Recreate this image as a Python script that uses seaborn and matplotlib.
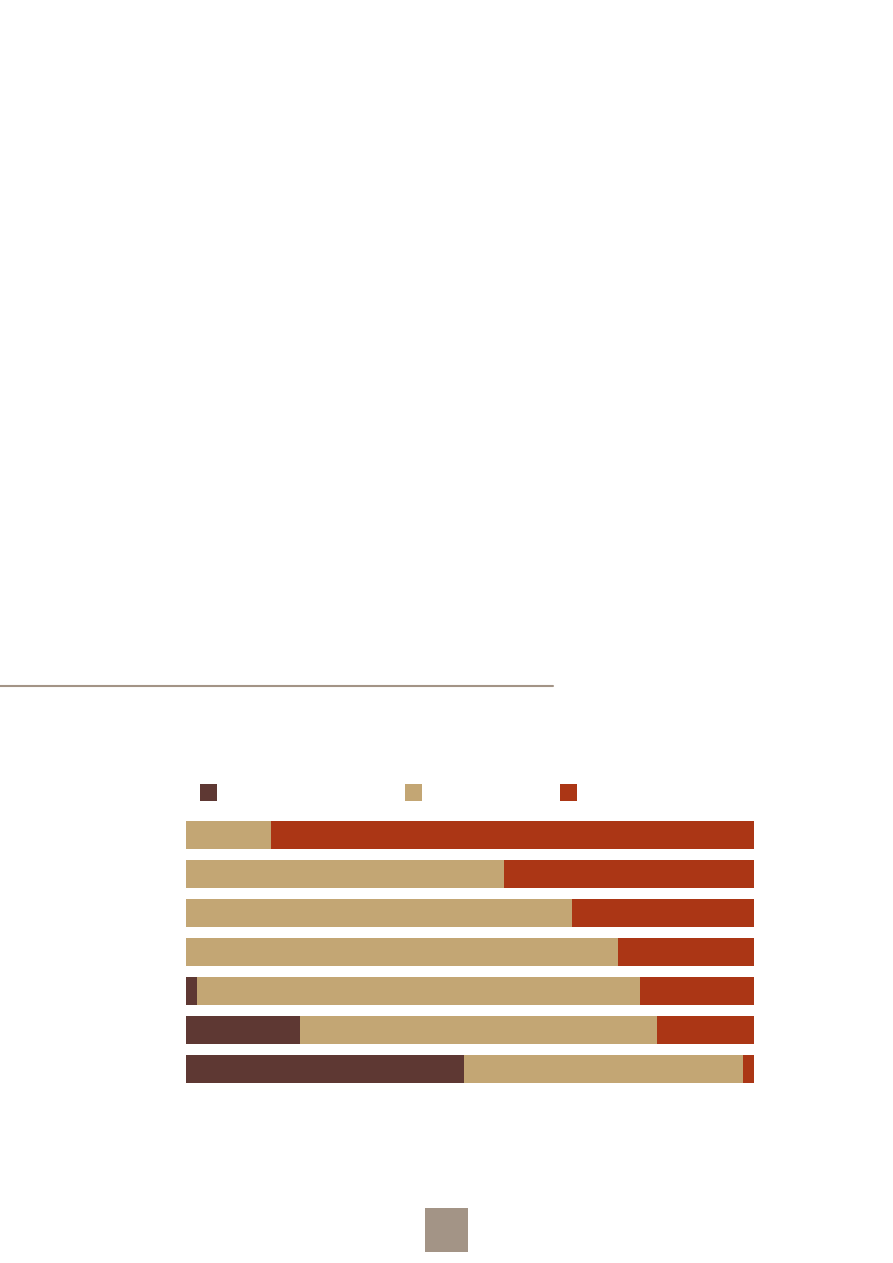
import numpy as np
import matplotlib
matplotlib.use("Agg")
import matplotlib.pyplot as plt
import matplotlib.patches as mpatches
import matplotlib.lines as mlines
import pandas as pd
import seaborn as sns

# seven rows, shares in percent (text of the source was blank)
rows = ["r1", "r2", "r3", "r4", "r5", "r6", "r7"]
dark = [0, 0, 0, 0, 2, 20, 49]
tan = [15, 56, 68, 76, 78, 63, 49]
red = [85, 44, 32, 24, 20, 17, 2]

c_dark = "#5e3833"
c_tan = "#c3a674"
c_red = "#ab3615"
c_grey = "#a39486"

sns.set_theme(style="white")

df = pd.DataFrame({"row": rows, "dark": dark, "tan": tan, "red": red})
df["cum_tan"] = df["dark"] + df["tan"]
df["cum_red"] = df["cum_tan"] + df["red"]

fig = plt.figure(figsize=(8.93, 12.63), dpi=100)
ax = fig.add_axes([186 / 893, 1 - 1088.5 / 1263, 568 / 893, 273 / 1263])

# stacked bars: draw the totals first, then overlay the shorter stacks
for col, c in [("cum_red", c_red), ("cum_tan", c_tan), ("dark", c_dark)]:
    sns.barplot(data=df, y="row", x=col, color=c, orient="h",
                width=0.718, saturation=1, linewidth=0, ax=ax)

ax.set_xlim(0, 100)
ax.set_ylim(6.5, -0.5)
ax.set_xlabel("")
ax.set_ylabel("")
ax.set_xticks([])
ax.set_yticks([])
sns.despine(ax=ax, left=True, bottom=True)

# legend keys (labels are blank in the source)
for x0, col in [(200, c_dark), (405, c_tan), (560, c_red)]:
    fig.add_artist(mpatches.Rectangle((x0 / 893, 1 - 801 / 1263), 17 / 893, 17 / 1263,
                                      transform=fig.transFigure, color=col, lw=0))

# rule above the chart and the page-number box
fig.add_artist(mlines.Line2D([0, 553 / 893], [1 - 686 / 1263] * 2,
                             transform=fig.transFigure, color=c_grey, lw=1.5))
fig.add_artist(mpatches.Rectangle((425 / 893, 1 - 1252 / 1263), 43 / 893, 44 / 1263,
                                  transform=fig.transFigure, color=c_grey, lw=0))

fig.savefig("out.png", dpi=100, facecolor="white")
